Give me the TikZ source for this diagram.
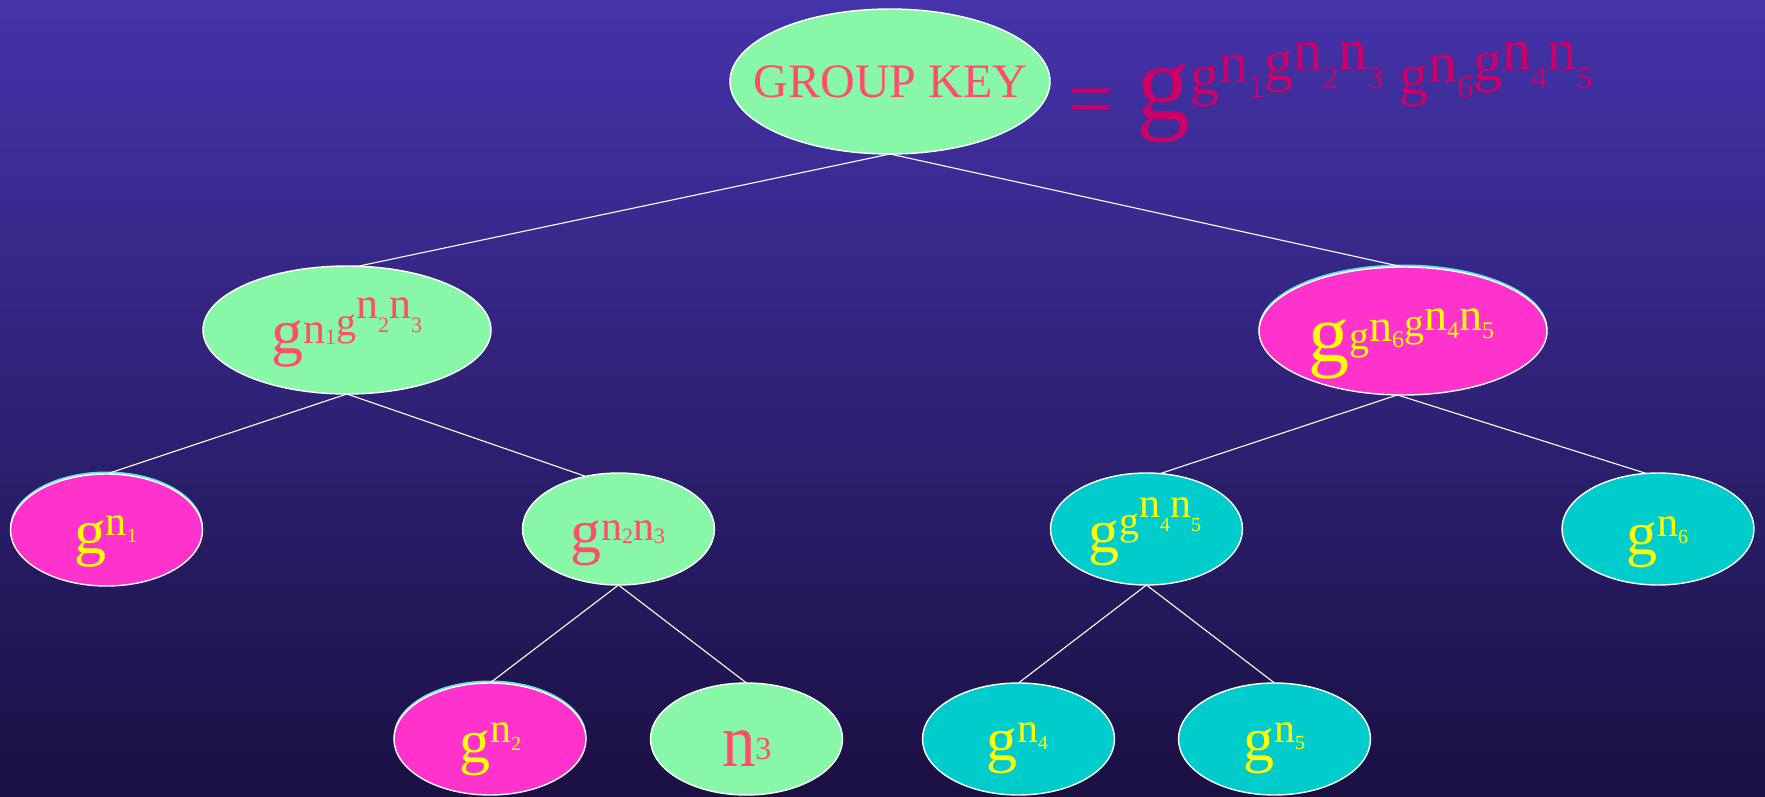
\documentclass[tikz,border=0pt]{standalone}
\usepackage{fontspec}
\setmainfont{Liberation Serif}
\usetikzlibrary{shapes.geometric,shadows}

\definecolor{bgtop}{HTML}{4433AA}
\definecolor{bgbot}{HTML}{1A1042}
\definecolor{keygreen}{HTML}{88F8A8}
\definecolor{keymagenta}{HTML}{FF33CC}
\definecolor{keycyan}{HTML}{00CCCC}
\definecolor{rimcyan}{HTML}{66E0F0}
\definecolor{labelred}{HTML}{FF4D6A}
\definecolor{labelyellow}{HTML}{FFFF00}
\definecolor{formulared}{HTML}{CC0066}

% one glyph run at a given size (pt) raised by a given amount (pt)
\newcommand\tw[3]{\raisebox{#2pt}{\fontsize{#1pt}{#1pt}\selectfont #3}}

\begin{document}
\begin{tikzpicture}[x=1pt,y=-1pt,
  keynode/.style={ellipse, draw=white, line width=1.4pt, inner sep=0pt, outer sep=0pt},
  bignode/.style={keynode, minimum width=288pt, minimum height=128pt},
  smallnode/.style={keynode, minimum width=192pt, minimum height=112pt},
  green/.style={fill=keygreen},
  cyannode/.style={fill=keycyan},
  magnode/.style={fill=keymagenta,
    general shadow={shadow yshift=2pt, fill=rimcyan, draw=rimcyan, line width=1pt}},
  txt/.style={inner sep=0pt, outer sep=0pt},
  edge/.style={draw=white, line width=1.1pt}
]
% backdrop
\shade[top color=bgtop, bottom color=bgbot] (0,0) rectangle (1765,797);
\useasboundingbox (0,0) rectangle (1765,797);

% tree nodes
\node[keynode, green, minimum width=320pt, minimum height=145pt] (root) at (890,81.5) {};
\node[bignode, green] (l) at (347,330) {};
\node[bignode, magnode] (r) at (1403,331) {};
\node[smallnode, magnode] (ll) at (106.5,530) {};
\node[smallnode, green] (lr) at (618.5,529) {};
\node[smallnode, cyannode] (rl) at (1146.5,529) {};
\node[smallnode, cyannode] (rr) at (1658,529) {};
\node[smallnode, magnode] (lrl) at (490,739) {};
\node[smallnode, green] (lrr) at (746.5,739) {};
\node[smallnode, cyannode] (rll) at (1018.5,739) {};
\node[smallnode, cyannode] (rlr) at (1274.5,739) {};

% connectors
\draw[edge] (root.south) -- (l.80);
\draw[edge] (root.south) -- (r.north);
\draw[edge] (l.south) -- (ll.north);
\draw[edge] (l.south) -- (lr.122);
\draw[edge] (r.265) -- (rl.76);
\draw[edge] (r.265) -- (rr.102);
\draw[edge] (lr.south) -- (lrl.north);
\draw[edge] (lr.south) -- (lrr.north);
\draw[edge] (rl.south) -- (rll.north);
\draw[edge] (rl.south) -- (rlr.north);

% labels
\node[txt, text=labelred, anchor=base] (troot) at (890.5,98)
  {\fontsize{48pt}{48pt}\selectfont GROUP KEY};
\node[txt, text=formulared, anchor=base west] (tformula) at (1068,120)
  {\tw{82}{-7}{=}\hspace{22pt}\tw{108}{0}{g}%
   \tw{58}{25}{g}\tw{58}{37}{n}\tw{32}{22}{1}\tw{58}{39}{g}\tw{58}{50}{n}\tw{32}{31}{2}\tw{58}{50}{n}\tw{32}{31}{3}%
   \hspace{16pt}%
   \tw{58}{25}{g}\tw{58}{37}{n}\tw{32}{22}{6}\tw{58}{39}{g}\tw{58}{50}{n}\tw{32}{31}{4}\tw{58}{50}{n}\tw{32}{31}{5}};
\node[txt, text=labelred, anchor=base west] (tl) at (271,353)
  {\tw{64}{0}{g}\tw{44}{10}{n}\tw{22}{9}{1}\tw{40}{18}{g}\tw{44}{35}{n}\tw{22}{21}{2}\tw{44}{35}{n}\tw{22}{21}{3}};
\node[txt, text=labelyellow, anchor=base west] (tr) at (1308,361)
  {\tw{82}{0}{g}\tw{40}{12}{g}\tw{46}{20}{n}\tw{24}{14}{6}\tw{40}{25}{g}\tw{46}{31}{n}\tw{24}{23}{4}\tw{46}{31}{n}\tw{24}{23}{5}};
\node[txt, text=labelyellow, anchor=base west] (tll) at (74,553)
  {\tw{64}{0}{g}\tw{42}{18}{n}\tw{20}{11}{1}};
\node[txt, text=labelred, anchor=base west] (tlr) at (570,552)
  {\tw{62}{0}{g}\tw{42}{12}{n}\tw{22}{9}{2}\tw{42}{12}{n}\tw{22}{9}{3}};
\node[txt, text=labelyellow, anchor=base west] (trl) at (1088,552)
  {\tw{62}{0}{g}\tw{40}{18}{g}\tw{42}{35}{n}\tw{20}{21}{4}\tw{42}{35}{n}\tw{20}{21}{5}};
\node[txt, text=labelyellow, anchor=base west] (trr) at (1626,554)
  {\tw{62}{0}{g}\tw{42}{18}{n}\tw{20}{11}{6}};
\node[txt, text=labelyellow, anchor=base west] (tlrl) at (459,762)
  {\tw{62}{0}{g}\tw{42}{20}{n}\tw{20}{12}{2}};
\node[txt, text=labelred, anchor=base west] (tlrr) at (722,766)
  {\scalebox{0.88}[1]{\fontsize{76pt}{76pt}\selectfont n}\tw{32}{7}{3}};
\node[txt, text=labelyellow, anchor=base west] (trll) at (986,760)
  {\tw{62}{0}{g}\tw{42}{18}{n}\tw{20}{11}{4}};
\node[txt, text=labelyellow, anchor=base west] (trlr) at (1243,760)
  {\tw{62}{0}{g}\tw{42}{18}{n}\tw{20}{11}{5}};
\end{tikzpicture}
\end{document}
